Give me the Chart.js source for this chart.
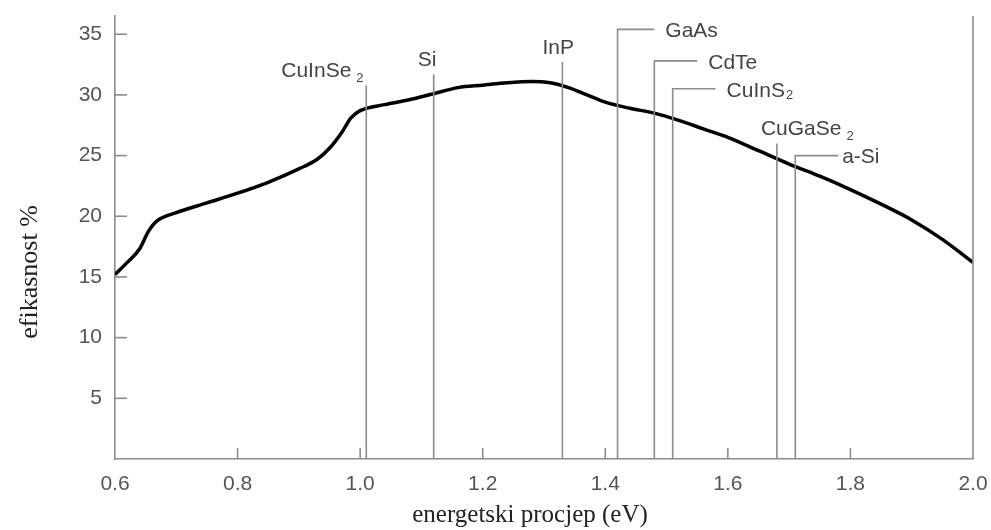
<!DOCTYPE html>
<html>
<head>
<meta charset="utf-8">
<script src="https://cdn.jsdelivr.net/npm/chart.js@4"></script>
<style>
  body { margin: 0; background: #fff; }
  #wrap { width: 991px; height: 530px; }
</style>
</head>
<body>
<div id="wrap"><canvas id="bandgapChart" width="991" height="530"></canvas></div>
<script>
// efficiency curve (energy gap in eV -> efficiency %)
const gapEv = [0.6, 0.62, 0.64, 0.655, 0.668, 0.70, 0.75, 0.80, 0.85, 0.90, 0.93, 0.95, 0.97, 0.985, 1.0,
  1.04, 1.08, 1.12, 1.16, 1.20, 1.24, 1.28, 1.31, 1.34, 1.37, 1.40, 1.44, 1.48, 1.52, 1.56, 1.60,
  1.65, 1.70, 1.75, 1.80, 1.85, 1.90, 1.95, 2.0];
const efficiency = [15.2, 16.2, 17.3, 18.8, 19.6, 20.3, 21.1, 21.9, 22.8, 23.9, 24.7, 25.6, 26.9, 28.1, 28.7,
  29.2, 29.6, 30.1, 30.6, 30.8, 31.0, 31.1, 31.0, 30.6, 30.0, 29.4, 28.9, 28.5, 27.9, 27.2, 26.5,
  25.4, 24.3, 23.3, 22.2, 21.0, 19.7, 18.1, 16.2];

// materials marked with vertical lines
const materials = ['CuInSe2', 'Si', 'InP', 'GaAs', 'CdTe', 'CuInS2', 'CuGaSe2', 'a-Si'];
const materialGap = [1.01, 1.12, 1.33, 1.42, 1.48, 1.51, 1.68, 1.71];
const materialTop = [30.8, 31.7, 32.7, 35.4, 32.8, 30.5, 26.0, 25.0];
const leaderTo = [null, null, null, 1.48, 1.55, 1.58, null, 1.78];

const xTicks = [0.6, 0.8, 1.0, 1.2, 1.4, 1.6, 1.8, 2.0];
const yTicks = [5, 10, 15, 20, 25, 30, 35];
const yMax = 36.5;

const axisGray = '#8c8c8c';
const sans = "'Liberation Sans', Arial, sans-serif";
const serif = "'Liberation Serif', 'Times New Roman', serif";

// label placement for materials without a leader line (px offsets)
const topLabel = {
  'CuInSe2': { dx: -85 },
  'Si': { dx: -16 },
  'InP': { dx: -20 },
  'CuGaSe2': { dx: -16 },
};

function drawName(ctx, name, x, y) {
  const m = name.match(/^(.*?)(\d)$/);
  const main = m ? m[1] : name;
  ctx.font = '21px ' + sans;
  ctx.fillText(main, x, y);
  if (m) {
    const w = ctx.measureText(main).width;
    const gap = main.endsWith('Se') ? 5 : 1;
    ctx.font = '13px ' + sans;
    ctx.fillText(m[2], x + w + gap, y + 5);
  }
}

function nameWidth(ctx, name) {
  const m = name.match(/^(.*?)(\d)$/);
  ctx.font = '21px ' + sans;
  return ctx.measureText(m ? m[1] : name).width + (m ? 10 : 0);
}

const overlay = {
  id: 'overlay',
  afterDraw(chart) {
    const { ctx } = chart;
    const xs = chart.scales.x;
    const ys = chart.scales.y;
    const y0 = ys.getPixelForValue(0);
    ctx.save();
    ctx.strokeStyle = axisGray;
    ctx.lineWidth = 1.6;

    // right frame line
    const xr = xs.getPixelForValue(2.0);
    ctx.beginPath();
    ctx.moveTo(xr, y0);
    ctx.lineTo(xr, ys.getPixelForValue(yMax));
    ctx.stroke();

    // inward ticks
    yTicks.forEach(v => {
      const py = ys.getPixelForValue(v);
      ctx.beginPath();
      ctx.moveTo(xs.left, py);
      ctx.lineTo(xs.left + 12, py);
      ctx.stroke();
    });
    xTicks.slice(1, -1).forEach(v => {
      const px = xs.getPixelForValue(v);
      ctx.beginPath();
      ctx.moveTo(px, y0);
      ctx.lineTo(px, y0 - 11);
      ctx.stroke();
    });

    // material lines and labels
    ctx.fillStyle = '#444';
    materials.forEach((name, i) => {
      const px = xs.getPixelForValue(materialGap[i]);
      const pt = ys.getPixelForValue(materialTop[i]);
      ctx.beginPath();
      ctx.moveTo(px, y0);
      ctx.lineTo(px, pt);
      if (leaderTo[i] !== null) {
        const pe = xs.getPixelForValue(leaderTo[i]);
        ctx.lineTo(pe, pt);
        ctx.stroke();
        ctx.textBaseline = 'middle';
        ctx.textAlign = 'left';
        drawName(ctx, name, pe + (name === 'a-Si' ? 4 : 11), pt + 2);
      } else {
        ctx.stroke();
        ctx.textBaseline = 'alphabetic';
        ctx.textAlign = 'left';
        const st = topLabel[name] || { dx: -nameWidth(ctx, name) / 2 };
        drawName(ctx, name, px + st.dx, pt - 8);
      }
    });

    // axis titles
    ctx.fillStyle = '#222';
    ctx.textAlign = 'center';
    ctx.textBaseline = 'middle';
    ctx.font = '25px ' + serif;
    ctx.fillText('energetski procjep (eV)', 530, 515);
    ctx.translate(30, 272);
    ctx.rotate(-Math.PI / 2);
    ctx.font = '26px ' + serif;
    ctx.fillText('efikasnost %', 0, 0);
    ctx.restore();
  },
};

new Chart(document.getElementById('bandgapChart'), {
  type: 'line',
  data: {
    datasets: [{
      label: 'efikasnost',
      data: gapEv.map((x, i) => ({ x: x, y: efficiency[i] })),
      borderColor: '#000',
      borderWidth: 3.5,
      pointRadius: 0,
      cubicInterpolationMode: 'monotone',
      fill: false,
    }],
  },
  options: {
    responsive: false,
    animation: false,
    layout: { padding: { left: 0, top: 16, right: 18, bottom: 0 } },
    plugins: { legend: { display: false }, tooltip: { enabled: false } },
    scales: {
      x: {
        type: 'linear',
        min: 0.6,
        max: 2.0,
        afterBuildTicks: s => { s.ticks = xTicks.map(v => ({ value: v })); },
        afterFit: s => { s.height = 71; s.paddingLeft = 0; s.paddingRight = 0; },
        grid: { display: false, drawTicks: false },
        border: { display: true, color: axisGray, width: 1.6 },
        ticks: {
          padding: 13,
          color: '#555',
          font: { family: sans, size: 21 },
          callback: v => v.toFixed(1),
        },
      },
      y: {
        min: 0,
        max: yMax,
        afterBuildTicks: s => { s.ticks = yTicks.map(v => ({ value: v })); },
        afterFit: s => { s.width = 115; s.paddingTop = 0; s.paddingBottom = 0; },
        grid: { display: false, drawTicks: false },
        border: { display: true, color: axisGray, width: 1.6 },
        ticks: {
          padding: 13,
          color: '#555',
          font: { family: sans, size: 21 },
        },
      },
    },
  },
  plugins: [overlay],
});
</script>
</body>
</html>
